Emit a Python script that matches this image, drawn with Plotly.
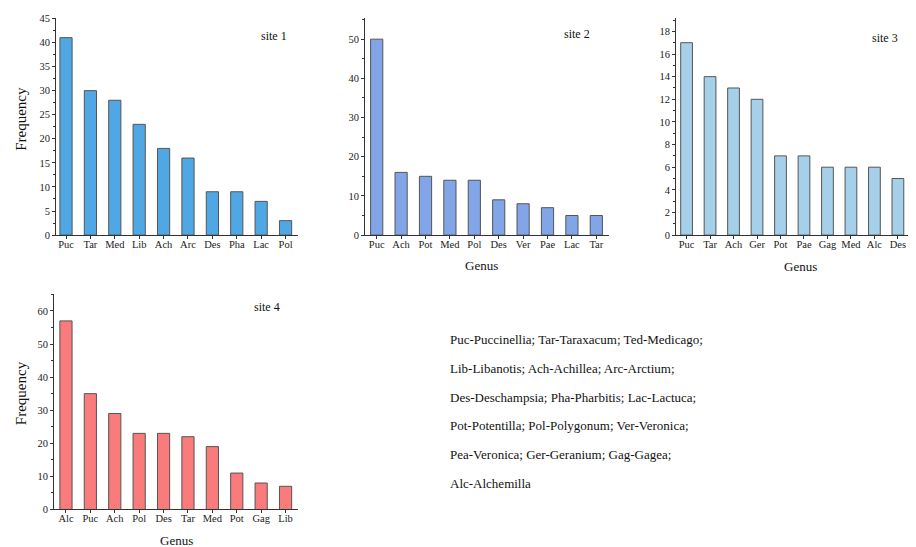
import plotly.graph_objects as go

# ---- data ----
site1_genus = ["Puc", "Tar", "Med", "Lib", "Ach", "Arc", "Des", "Pha", "Lac", "Pol"]
site1_freq = [41, 30, 28, 23, 18, 16, 9, 9, 7, 3]

site2_genus = ["Puc", "Ach", "Pot", "Med", "Pol", "Des", "Ver", "Pae", "Lac", "Tar"]
site2_freq = [50, 16, 15, 14, 14, 9, 8, 7, 5, 5]

site3_genus = ["Puc", "Tar", "Ach", "Ger", "Pot", "Pae", "Gag", "Med", "Alc", "Des"]
site3_freq = [17, 14, 13, 12, 7, 7, 6, 6, 6, 5]

site4_genus = ["Alc", "Puc", "Ach", "Pol", "Des", "Tar", "Med", "Pot", "Gag", "Lib"]
site4_freq = [57, 35, 29, 23, 23, 22, 19, 11, 8, 7]

legend_lines = [
    "Puc-Puccinellia; Tar-Taraxacum; Ted-Medicago;",
    "Lib-Libanotis; Ach-Achillea; Arc-Arctium;",
    "Des-Deschampsia; Pha-Pharbitis; Lac-Lactuca;",
    "Pot-Potentilla; Pol-Polygonum; Ver-Veronica;",
    "Pea-Veronica; Ger-Geranium; Gag-Gagea;",
    "Alc-Alchemilla",
]

OFF = 8                     # page body margin
W, H = 916 - 2 * OFF, 545
FONT = "Liberation Serif, Times New Roman, serif"

def fx(px):
    return (px - OFF) / W

def fy(py):
    sy = 1.01457 * py - 1.72
    return 1 - (sy - OFF) / H

panels = [
    dict(genus=site1_genus, freq=site1_freq, color="#4FA8E3", xd=(56, 298), yd=(15, 233),
         xr=(-0.41, 9.51), yr=(0, 45), dt=5, label="site 1", lab=(274, 33)),
    dict(genus=site2_genus, freq=site2_freq, color="#82A5E8", xd=(365, 609), yd=(15, 233),
         xr=(-0.48, 9.52), yr=(0, 55.3), dt=10, label="site 2", lab=(577, 31)),
    dict(genus=site3_genus, freq=site3_freq, color="#A6D0EA", xd=(676, 908), yd=(15, 233),
         xr=(-0.45, 9.43), yr=(0, 19.15), dt=2, label="site 3", lab=(885, 35)),
    dict(genus=site4_genus, freq=site4_freq, color="#F97B7B", xd=(54, 298), yd=(292, 509),
         xr=(-0.49, 9.51), yr=(0, 65.2), dt=10, label="site 4", lab=(267, 305)),
]

fig = go.Figure()
annotations = []
layout = {}
for i, p in enumerate(panels, start=1):
    sx = "" if i == 1 else str(i)
    fig.add_trace(go.Bar(
        x=p["genus"], y=p["freq"], width=0.5,
        marker=dict(color=p["color"], line=dict(color="#555555", width=1)),
        xaxis="x" + sx, yaxis="y" + sx, showlegend=False,
    ))
    layout["xaxis" + sx] = dict(
        domain=[fx(p["xd"][0]), fx(p["xd"][1])], anchor="y" + sx,
        type="category", range=list(p["xr"]),
        showline=True, linecolor="#333333", linewidth=1,
        ticks="outside", ticklen=3, tickcolor="#333333",
        ticklabelstandoff=-4,
        tickfont=dict(family=FONT, size=10.5, color="#222222"),
        showgrid=False, zeroline=False, fixedrange=True,
    )
    layout["yaxis" + sx] = dict(
        domain=[fy(p["yd"][1]), fy(p["yd"][0])], anchor="x" + sx,
        range=list(p["yr"]), dtick=p["dt"], tick0=0,
        showline=True, linecolor="#333333", linewidth=1,
        ticks="outside", ticklen=3, tickcolor="#333333",
        minor=dict(ticks="outside", ticklen=2, dtick=p["dt"] / 2, tickcolor="#333333"),
        ticklabeloverflow="allow",
        tickfont=dict(family=FONT, size=10.5, color="#222222"),
        showgrid=False, zeroline=False, fixedrange=True,
    )
    annotations.append(dict(
        text=p["label"], x=fx(p["lab"][0]), y=fy(p["lab"][1]), xref="paper", yref="paper",
        showarrow=False, xanchor="center", yanchor="middle",
        font=dict(family=FONT, size=12, color="#111111"),
    ))

# axis titles
for (x, y) in [(21, 116), (21, 392)]:
    annotations.append(dict(
        text="Frequency", x=fx(x), y=fy(y), xref="paper", yref="paper", textangle=-90,
        showarrow=False, xanchor="center", yanchor="middle",
        font=dict(family=FONT, size=15, color="#111111"),
    ))
for (x, y) in [(482, 264), (800, 265), (176, 540)]:
    annotations.append(dict(
        text="Genus", x=fx(x), y=fy(y), xref="paper", yref="paper",
        showarrow=False, xanchor="center", yanchor="middle",
        font=dict(family=FONT, size=13, color="#111111"),
    ))

# abbreviation legend
for k, line in enumerate(legend_lines):
    annotations.append(dict(
        text=line, x=fx(448), y=fy(338 + 29 * k), xref="paper", yref="paper",
        showarrow=False, xanchor="left", yanchor="middle",
        font=dict(family=FONT, size=13, color="#111111"),
    ))

fig.update_layout(
    width=W, height=H, autosize=False,
    margin=dict(l=0, r=0, t=0, b=0),
    paper_bgcolor="white", plot_bgcolor="white",
    bargap=0.5, annotations=annotations,
    **layout,
)

fig.write_html("out.html")
